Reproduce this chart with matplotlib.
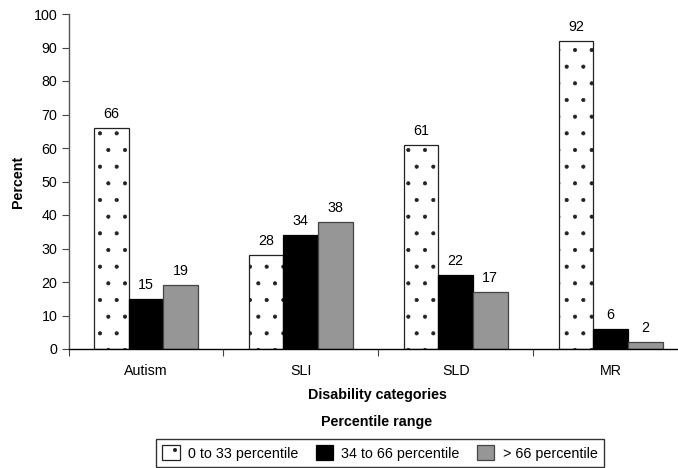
import matplotlib
matplotlib.use("Agg")
import matplotlib.pyplot as plt
import numpy as np
from matplotlib.patches import Patch

plt.rcParams['font.family'] = ['Liberation Sans', 'DejaVu Sans']
plt.rcParams['hatch.color'] = '#333333'
plt.rcParams['hatch.linewidth'] = 0.5

categories = ["Autism", "SLI", "SLD", "MR"]
series_names = ["0 to 33 percentile", "34 to 66 percentile", "> 66 percentile"]
low = [66, 28, 61, 92]
mid = [15, 34, 22, 6]
high = [19, 38, 17, 2]
yticks = [0, 10, 20, 30, 40, 50, 60, 70, 80, 90, 100]

FS = 10.3
W, H = 678, 468
fig = plt.figure(figsize=(W / 100, H / 100), dpi=100)
ax = fig.add_axes([68.5 / W, (H - 349) / H, (W - 68.5) / W, 335 / H])

x = np.arange(len(categories))
bw = 0.224
styles = [
    dict(facecolor='white', edgecolor='#222222', hatch='.'),
    dict(facecolor='black', edgecolor='black'),
    dict(facecolor='#969696', edgecolor='#444444'),
]
values = [low, mid, high]
for i, (vals, st) in enumerate(zip(values, styles)):
    bars = ax.bar(x + (i - 1) * bw, vals, width=bw, linewidth=0.9, zorder=2, **st)
    ax.bar_label(bars, labels=[str(v) for v in vals], padding=5, fontsize=FS)

ax.set_ylim(0, 100)
ax.set_yticks(yticks)
ax.set_xlim(-0.5, 3.5 - 10 / 155)
ax.set_xticks(np.arange(-0.5, 3.0, 1.0))
ax.set_xticklabels([])
ax.set_xticks(x, minor=True)
ax.set_xticklabels(categories, minor=True)
ax.tick_params(axis='x', which='minor', length=0, pad=11, labelsize=FS)
ax.tick_params(axis='x', which='major', length=5, color='#444444', direction='out')
ax.tick_params(axis='y', length=5, color='#444444', labelsize=FS, pad=3)
for s in ['top', 'right']:
    ax.spines[s].set_visible(False)
ax.spines['left'].set_color('#555555')
ax.spines['bottom'].set_color('black')
ax.spines['left'].set_linewidth(1.0)
ax.spines['bottom'].set_linewidth(1.0)

fig.text(18 / W, 1 - 182 / H, "Percent", rotation=90, ha='center', va='center',
         fontsize=FS, fontweight='bold')
fig.text(377 / W, 1 - 395 / H, "Disability categories", ha='center', va='center',
         fontsize=FS, fontweight='bold')
fig.text(377 / W, 1 - 422 / H, "Percentile range", ha='center', va='center',
         fontsize=FS, fontweight='bold')

handles = [Patch(linewidth=0.9, **st) for st in styles]
leg = fig.legend(handles, series_names, ncol=3, loc='lower left',
                 bbox_to_anchor=(156 / W, 1 - 467 / H),
                 fontsize=FS, frameon=True, fancybox=False,
                 edgecolor='black', handlelength=1.2, handleheight=1.25,
                 handletextpad=0.6, columnspacing=1.2, borderpad=0.45,
                 borderaxespad=0)
leg.get_frame().set_linewidth(1.0)

fig.savefig("out.png", dpi=100)
